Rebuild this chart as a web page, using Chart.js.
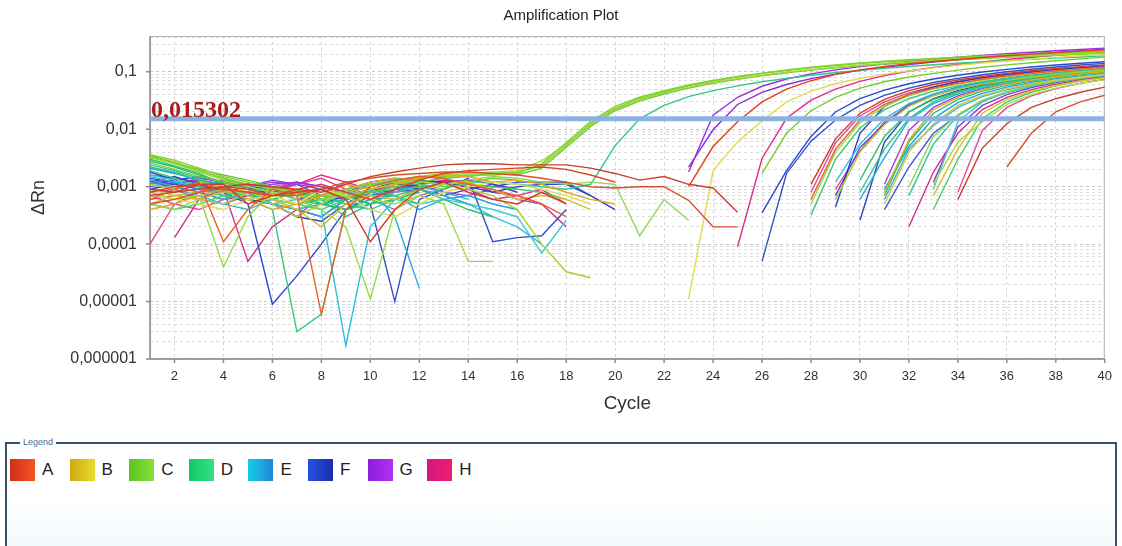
<!DOCTYPE html>
<html>
<head>
<meta charset="utf-8">
<title>Amplification Plot</title>
<script src="https://cdn.jsdelivr.net/npm/chart.js@4.4.1/dist/chart.umd.min.js"></script>
<style>
  html, body { margin: 0; padding: 0; background: #fff; }
  body { width: 1122px; height: 546px; overflow: hidden; position: relative; font-family: "Liberation Sans", Arial, sans-serif; }
  #plot { position: absolute; left: 0; top: 0; }
  #legendBox { position: absolute; left: 5px; top: 442px; width: 1108px; height: 120px; border: 2px solid #3a5068; border-bottom: 0; background: linear-gradient(to bottom, #fff 45%, #eef8fc 100%); }
  #legendBox .caption { position: absolute; left: 13px; top: -7px; padding: 0 3px; background: #fff; font-size: 9px; line-height: 11px; color: #4a6d96; }
  #legendItems { position: absolute; left: 3px; top: 15px; display: flex; }
  .item { display: flex; align-items: center; width: 59.6px; }
  .swatch { width: 25px; height: 22px; }
  .item span { margin-left: 7px; font-size: 17px; color: #222; }
</style>
</head>
<body>
<canvas id="plot" width="1122" height="420"></canvas>
<div id="legendBox"><span class="caption">Legend</span><div id="legendItems"></div></div>
<script>
(function () {
  "use strict";

  // Cycles and axis ticks
  var cycles = [1, 2, 3, 4, 5, 6, 7, 8, 9, 10, 11, 12, 13, 14, 15, 16, 17, 18, 19, 20,
                21, 22, 23, 24, 25, 26, 27, 28, 29, 30, 31, 32, 33, 34, 35, 36, 37, 38, 39, 40];
  var cycleTicks = [2, 4, 6, 8, 10, 12, 14, 16, 18, 20, 22, 24, 26, 28, 30, 32, 34, 36, 38, 40];
  var rnTicks = [0.1, 0.01, 0.001, 0.0001, 0.00001, 0.000001];
  var rnTickLabels = ["0,1", "0,01", "0,001", "0,0001", "0,00001", "0,000001"];
  var threshold = 0.015302;
  var rowNames = ["A", "B", "C", "D", "E", "F", "G", "H"];

  // Wells: base = readings from cycle 1, amp = readings from cycle `from`
  // (cycles left out are below zero and have no place on a log axis)
  var rowA = [
    { base: [.0008, .001, .0011, .0009, .0008, .0007, .0009, .0011, .0008, .0006, .0009, .0013, .0017, .0019, .002, .0021, .0022, .002, .0016, .0012],
      from: 23, amp: [.001, .005, .0135, .03, .05, .07, .09, .108, .124, .138, .151, .164, .177, .19, .203, .216, .229, .242] },
    { base: [.0009, .0008, .0011, .0011, .0005, .0007, .0008, .0009, .0006, .00011, .0004, .0009, .0012, .0008, .0006, .0005, .0008, .0005],
      from: 28, amp: [.0011, .0068, .019, .033, .047, .06, .072, .083, .094, .104, .114, .123, .132] },
    { base: [.0006, .0009, .0012, .00011, .0004, .0009, .0007, .000006, .0004, .001, .0013, .0015, .0014, .0011, .0009, .0007, .0005, .0003],
      from: 28, amp: [.0006, .0045, .0145, .027, .04, .052, .063, .074, .084, .094, .103, .112, .12] },
    { base: [.0007, .0008, .0009, .001, .0011, .001, .0009, .0008, .0011, .0015, .0018, .0021, .0024, .0025, .0025, .0024, .0024, .0024, .0021, .0017, .0013, .0015, .0011, .00095, .00036],
      from: 34, amp: [.0006, .0047, .0125, .024, .034, .044, .054] },
    { base: [.0005, .0006, .0008, .001, .0009, .0007, .0007, .0009, .0012, .0014, .0016, .0017, .0018, .0018, .0017, .0016, .0014, .0012, .001, .00095, .001, .001, .00058, .0002, .0002],
      from: 36, amp: [.0022, .0085, .02, .03, .039] }
  ];

  var rowB = [
    { base: [.0007, .0006, .0005, .0004, .0006, .0007, .0005, .0009, .0007, .0004, .0003, .0005, .0008, .001, .0012, .0011, .0009, .0007, .0005],
      from: 23, amp: [.000011, .0019, .006, .014, .03, .046, .062, .077, .091, .104, .117, .13, .142, .154, .166, .178, .19, .2] },
    { base: [.0004, .0005, .0007, .0009, .0006, .0004, .0005, .0007, .0011, .0009, .0011, .0014, .0016, .0015, .0012, .0013, .0011, .0008, .0006, .0005],
      from: 31, amp: [.0008, .0065, .022, .036, .049, .061, .072, .082, .092, .101] },
    { base: [.0005, .0007, .0006, .0008, .0009, .0006, .0004, .0002, .0005, .0007, .0006, .0009, .0011, .0012, .0009, .0006, .0007, .0006, .0004],
      from: 33, amp: [.0007, .0045, .019, .033, .046, .058, .069, .079] },
    { base: [],
      from: 31, amp: [.0005, .004, .0125, .026, .039, .051, .062, .072, .081, .09] }
  ];

  var rowC = [
    { base: [.0036, .0029, .0021, .0015, .0012, .00095, .0008, .0007, .0009, .0011, .0012, .0014, .0015, .0016, .0016, .0017],
      from: 17, amp: [.0025, .0058, .0138, .025, .036, .047, .059, .071, .083, .095, .108, .12, .132, .143, .153, .162, .171, .18, .188, .196, .204, .212, .22, .228] },
    { base: [.0034, .0027, .0019, .0014, .0011, .0009, .00075, .0006, .0008, .001, .0013, .0015, .0017, .0018, .0017, .0018],
      from: 17, amp: [.0023, .0052, .0128, .023, .034, .045, .057, .069, .081, .093, .105, .117, .128, .139, .149, .158, .167, .176, .184, .192, .2, .208, .216, .224] },
    { base: [.0032, .0025, .0018, .0013, .001, .0008, .0007, .0006, .0007, .0009, .0011, .0014, .0016, .0017, .0018, .0019],
      from: 17, amp: [.0028, .0055, .012, .022, .032, .043, .054, .065, .076, .087, .098, .109, .12, .13, .14, .149, .158, .166, .174, .182, .19, .198, .206, .214] },
    { base: [.0035, .0026, .002, .0016, .0013, .001, .00085, .0007, .00065, .0008, .001, .0012, .0014, .0015, .0017, .0016],
      from: 17, amp: [.0021, .0048, .0112, .021, .031, .041, .052, .063, .074, .085, .096, .107, .117, .127, .136, .145, .154, .162, .17, .178, .186, .194, .201, .208] },
    { base: [.0026, .002, .0015, .0012, .0009, .0007, .0009, .0006, .0008, .001, .0012, .0011, .0009, .0012, .0014, .0013],
      from: 26, amp: [.0017, .0085, .021, .036, .052, .067, .081, .094, .107, .12, .132, .144, .156, .168, .18] },
    { base: [.0008, .0006, .0007, .00004, .0003, .0008, .0006, .0004, .0002, .000011, .0004, .0007, .0005, .00005, .00005],
      from: 28, amp: [.0005, .004, .013, .025, .038, .05, .061, .072, .082, .092, .101, .11, .118] },
    { base: [.0011, .0009, .0012, .001, .0007, .0005, .0003, .0005, .0009, .0012, .0014, .0012, .0011, .0009, .0007, .0004, .0001, .000033, .000026],
      from: 29, amp: [.0006, .004, .012, .025, .038, .05, .061, .071, .081, .09, .099, .107] },
    { base: [.0005, .0004, .0006, .0005, .0008, .0006, .0004, .0006, .0009, .0011, .0013, .0012, .0011, .0013, .0015, .0014, .0012, .0011, .0012, .0011, .00014, .0006, .00026],
      from: 32, amp: [.001, .0075, .018, .032, .045, .057, .068, .078, .088] },
    { base: [.0009, .0007, .0008, .0011, .0009, .0006, .0005, .0007, .0008, .0006, .0005, .0007],
      from: 33, amp: [.0011, .006, .0135, .027, .04, .052, .063, .073] }
  ];

  var rowD = [
    { base: [.0033, .0026, .0019, .0014, .001, .0008, .0006, .0005, .0006, .0008, .0009, .001, .0011, .0012, .0012, .0011, .001, .0009],
      from: 19, amp: [.0011, .0052, .0152, .026, .037, .047, .057, .067, .077, .087, .097, .106, .115, .124, .133, .141, .149, .157, .165, .173, .181, .189] },
    { base: [.0019, .0014, .001, .0007, .0006, .0004, .000003, .000006, .0004, .0009, .0007, .0005],
      from: 28, amp: [.00032, .003, .0105, .022, .034, .046, .057, .067, .077, .086, .095, .103, .111] },
    { base: [.0028, .0022, .0016, .0012, .001, .0008, .0007, .0005, .0004, .0006, .0007, .0009, .0006, .0004, .0003],
      from: 30, amp: [.0013, .0075, .02, .033, .045, .056, .067, .077, .086, .095, .103] },
    { base: [.003, .0023, .0017, .0011, .0009, .0006, .0005, .0006, .0003, .0005, .0006, .0008],
      from: 31, amp: [.0007, .006, .019, .033, .046, .058, .069, .079, .089, .098] },
    { base: [.0024, .0019, .0014, .0009, .0008, .001, .0008, .0007, .0005, .0004, .0006, .0008],
      from: 32, amp: [.0007, .0055, .0175, .031, .044, .056, .067, .077, .087] },
    { base: [.0005, .0004, .0005, .0007, .0008, .0006, .0005, .0004, .0006, .0009, .0011, .0013, .001, .0011, .001, .0009, .0008, .0006],
      from: 33, amp: [.0004, .003, .0153, .03, .044, .057, .069, .08] },
    { base: [.0022, .0018, .0013, .0009, .0007, .0006, .0008, .0009, .0007, .0005],
      from: 30, amp: [.0008, .0045, .0153, .03, .044, .057, .069, .08, .09, .099, .108] }
  ];

  var rowE = [
    { base: [.0015, .0012, .001, .0008, .0007, .0005, .0006, .0004, .0000017, .0002, .0006, .0009, .0007, .0005, .0003, .0002, .0001],
      from: 29, amp: [.0012, .0055, .0152, .028, .041, .053, .064, .075, .085, .094, .103, .111] },
    { base: [.0013, .001, .0008, .0006, .0008, .0005, .0004, .0005, .0006, .0009, .0003, .000017],
      from: 30, amp: [.0006, .0032, .0145, .028, .041, .053, .064, .074, .084, .093, .101] },
    { base: [.0016, .0013, .0009, .0007, .0006, .0008, .0007, .0005, .0008, .0007, .0006, .0005, .0006, .0005, .0004, .0003, .00007, .00026],
      from: 33, amp: [.0009, .0135, .03, .045, .058, .07, .081, .091] },
    { base: [.0021, .0017, .0013, .0011, .0009, .0005, .0004, .0003, .0006, .0008, .0007, .0004, .0006, .0007, .0005, .0004],
      from: 31, amp: [.0009, .005, .0153, .029, .042, .054, .065, .075, .085, .094] },
    { base: [.0012, .0009, .0007, .0005, .0004, .0006, .0008, .0006, .0004, .0005, .0008, .001, .0008, .0006],
      from: 31, amp: [.0006, .0045, .0115, .024, .037, .049, .06, .07, .079, .088] }
  ];

  var rowF = [
    { base: [.0012, .0015, .0011, .0008, .0005, .000009, .000028, .0001, .0004, .0006, .0009, .0011, .0012, .001, .0008, .001, .0011, .0011, .0007],
      from: 26, amp: [.00035, .0019, .0075, .02, .034, .048, .062, .075, .087, .099, .11, .121, .131, .141, .15] },
    { base: [.0009, .0011, .0009, .0012, .001, .0007, .0008, .0006, .0007, .0005, .00001, .0006, .0009, .0014, .00011, .00013, .00014, .0004],
      from: 26, amp: [.00005, .0017, .0062, .0145, .026, .039, .052, .065, .077, .089, .1, .111, .121, .131, .14] },
    { base: [.0011, .0013, .0015, .0012, .0009, .001, .0008, .0005, .0007, .0009, .0011, .0013, .0012, .0011, .001, .0012, .0012, .0012, .0007, .0004],
      from: 29, amp: [.00044, .0085, .025, .04, .054, .067, .079, .09, .1, .11, .119, .128] },
    { base: [.0018, .0013, .0009, .0007, .0006, .0005, .0003, .00025, .0005, .0009, .0012, .0009, .0007, .0009, .0011, .0008],
      from: 30, amp: [.00026, .006, .02, .034, .047, .059, .07, .08, .09, .099, .107] },
    { base: [.0014, .0012, .001, .0009, .0011, .0008, .0006, .0005, .0004, .0007, .0009, .0008],
      from: 31, amp: [.0004, .0022, .0085, .0175, .031, .044, .056, .067, .077, .086] }
  ];

  var rowG = [
    { base: [.0012, .0011, .0013, .0011, .0009, .0011, .0012, .001, .0008, .0007],
      from: 23, amp: [.0018, .0175, .036, .056, .075, .092, .108, .123, .137, .151, .165, .179, .193, .206, .219, .232, .245, .258] },
    { base: [.0016, .0014, .0012, .001, .0011, .0009, .0006, .0007, .0009, .0012, .0014, .0013, .0012, .0013, .0011, .0009],
      from: 23, amp: [.0022, .0098, .027, .044, .06, .076, .091, .106, .12, .134, .148, .162, .176, .19, .204, .218, .232, .246] },
    { base: [.0013, .0011, .0014, .0012, .001, .0012, .0011, .0009, .0007, .0005, .0009, .0011, .0008, .0007, .0009, .0006, .0005],
      from: 31, amp: [.0011, .0095, .024, .038, .051, .063, .074, .084, .094, .103] },
    { base: [.0009, .0012, .001, .0013, .0011, .0009, .0012, .001, .0008, .0011, .0013, .001],
      from: 33, amp: [.0012, .011, .026, .04, .053, .065, .076, .086] },
    { base: [.001, .0012, .0009, .0008, .001, .0013, .0011, .0007, .0006, .0008, .001, .0009, .0007, .0005],
      from: 29, amp: [.0007, .0048, .0125, .027, .041, .054, .066, .077, .087, .097, .106, .114] }
  ];

  var rowH = [
    { base: [.0006, .0007, .0008, .0006, .0007, .0009, .0011, .0016, .0012, .0009, .0008, .0011, .0013, .0012, .0008, .0007, .0009, .0005],
      from: 25, amp: [.00009, .0031, .0155, .032, .05, .068, .086, .103, .119, .134, .149, .164, .179, .194, .208, .222] },
    { base: [.0001, .0005, .0008, .0009, .0006, .0008, .0011, .0014, .0009, .0007, .0008, .0009],
      from: 28, amp: [.0008, .0058, .017, .03, .043, .055, .067, .078, .088, .098, .107, .116, .125] },
    { base: [null, .00013, .0006, .0009, .00005, .0002, .0004, .0003, .0006, .0008, .0012, .0015, .0014, .0009, .0006, .0007, .0005, .0002],
      from: 32, amp: [.0002, .0018, .0085, .022, .036, .049, .061, .072, .082] },
    { base: [.0007, .0005, .0004, .0006, .0008, .0005, .0003, .0007, .0012, .0006, .0004, .0007, .0009],
      from: 34, amp: [.0008, .0095, .024, .038, .051, .063, .074] },
    { base: [.0008, .0009, .0006, .0005, .0007, .001, .0012, .0009, .0006, .0008, .0011, .001],
      from: 29, amp: [.0009, .0042, .0135, .026, .039, .051, .062, .072, .082, .091, .1, .108] }
  ];

  var rows = { A: rowA, B: rowB, C: rowC, D: rowD, E: rowE, F: rowF, G: rowG, H: rowH };

  // Line colours for each well, by row
  var wellColors = {
    A: ["#e0401e", "#d23a28", "#e8642a", "#c8402c", "#d85030"],
    B: ["#e0dc50", "#e0a828", "#d4bc2a", "#e4c040"],
    C: ["#7ed424", "#8ccf2e", "#a4d83c", "#6cc83a", "#78cc30", "#9ad84a", "#a8d030", "#90d858", "#b0d840"],
    D: ["#30c888", "#38c878", "#2ec06a", "#22c870", "#34c498", "#40d070", "#2cc880"],
    E: ["#2cc0dc", "#2ab0e0", "#40c8d4", "#1ea4d8", "#38b8d0"],
    F: ["#2c48d0", "#3050c8", "#2440c0", "#3444b8", "#3858d8"],
    G: ["#9a30e0", "#8a2ad8", "#a040e0", "#8040d0", "#7040d8"],
    H: ["#e02a8c", "#e0449c", "#d0308c", "#e04c98", "#e0509c"]
  };

  // Legend swatch gradients
  var swatchColors = {
    A: ["#d42c1e", "#f0581e"], B: ["#d0a810", "#e4dc30"], C: ["#5cc41e", "#84e03c"], D: ["#12c862", "#34e084"],
    E: ["#16cce8", "#2088d8"], F: ["#2452e4", "#1a2ea8"], G: ["#8a1ee0", "#b232f0"], H: ["#d01880", "#f01c70"]
  };

  function wellPoints(well) {
    var pts = cycles.map(function (c) { return { x: c, y: null }; });
    well.base.forEach(function (v, i) { pts[i].y = v; });
    well.amp.forEach(function (v, i) { pts[well.from - 1 + i].y = v; });
    return pts;
  }

  function decadeIndex(v) {
    for (var i = 0; i < rnTicks.length; i++) {
      if (Math.abs(v - rnTicks[i]) < rnTicks[i] * 1e-6) return i;
    }
    return -1;
  }

  var datasets = [];
  rowNames.forEach(function (name) {
    rows[name].forEach(function (well, i) {
      datasets.push({
        label: name + (i + 1),
        data: wellPoints(well),
        borderColor: wellColors[name][i],
        borderWidth: 1.4,
        pointRadius: 0,
        fill: false,
        tension: 0
      });
    });
  });

  // Threshold line across the whole run
  datasets.push({
    label: "Threshold",
    data: [{ x: cycles[0], y: threshold }, { x: cycles[cycles.length - 1], y: threshold }],
    borderColor: "#8cb3e0",
    borderWidth: 5,
    pointRadius: 0,
    order: -1
  });

  var plotFrame = {
    id: "plotFrame",
    beforeDatasetsDraw: function (chart) {
      var a = chart.chartArea, ctx = chart.ctx;
      var xs = chart.scales.x, ys = chart.scales.y;
      ctx.save();
      ctx.strokeStyle = "#b4b4b4";
      ctx.lineWidth = 1;
      ctx.strokeRect(a.left + 0.5, a.top + 0.5, a.right - a.left - 1, a.bottom - a.top - 1);
      ctx.strokeStyle = "#8c8c8c";
      ctx.lineWidth = 1.5;
      ctx.beginPath();
      ctx.moveTo(a.left, a.top);
      ctx.lineTo(a.left, a.bottom);
      ctx.lineTo(a.right, a.bottom);
      rnTicks.forEach(function (v) {
        var py = ys.getPixelForValue(v);
        ctx.moveTo(a.left - 4, py);
        ctx.lineTo(a.left, py);
      });
      cycleTicks.forEach(function (c) {
        var px = xs.getPixelForValue(c);
        ctx.moveTo(px, a.bottom);
        ctx.lineTo(px, a.bottom + 4);
      });
      ctx.stroke();
      ctx.restore();
    },
    afterDatasetsDraw: function (chart) {
      var ctx = chart.ctx;
      var py = chart.scales.y.getPixelForValue(threshold);
      ctx.save();
      ctx.font = "bold 24px 'Liberation Serif', 'Times New Roman', serif";
      ctx.fillStyle = "#a81c1c";
      ctx.textAlign = "left";
      ctx.textBaseline = "alphabetic";
      ctx.fillText(String(threshold).replace(".", ","), chart.chartArea.left + 1, py - 2);
      ctx.restore();
    },
    afterDraw: function (chart) {
      var ctx = chart.ctx;
      ctx.save();
      ctx.font = "15px 'Liberation Sans', Arial, sans-serif";
      ctx.fillStyle = "#222";
      ctx.textAlign = "center";
      ctx.textBaseline = "middle";
      ctx.fillText("Amplification Plot", chart.width / 2, 16);
      ctx.restore();
    }
  };

  Chart.defaults.font.family = "'Liberation Sans', Arial, sans-serif";
  Chart.defaults.color = "#333";

  var ctx = document.getElementById("plot").getContext("2d");
  var amplificationChart = new Chart(ctx, {
    type: "line",
    data: { datasets: datasets },
    plugins: [plotFrame],
    options: {
      responsive: false,
      animation: false,
      events: [],
      layout: { padding: { top: 36, right: 13, left: 0, bottom: 0 } },
      plugins: {
        legend: { display: false },
        tooltip: { enabled: false },
        title: { display: false }
      },
      scales: {
        x: {
          type: "linear",
          min: 1,
          max: 40,
          afterBuildTicks: function (axis) {
            axis.ticks = cycleTicks.map(function (v) { return { value: v }; });
          },
          afterFit: function (axis) { axis.height = 61; },
          grid: { color: "#d6d6d6", drawTicks: false },
          border: { display: false, dash: [3, 3] },
          ticks: { padding: 10, font: { size: 13 }, color: "#333", maxRotation: 0, autoSkip: false },
          title: { display: true, text: "Cycle", font: { size: 19 }, color: "#333", padding: { top: 0, bottom: 5 } }
        },
        y: {
          type: "logarithmic",
          min: 0.000001,
          max: 0.42,
          afterBuildTicks: function (axis) {
            axis.ticks = axis.ticks.filter(function (t) {
              var m = t.value / Math.pow(10, Math.floor(Math.log10(t.value) + 1e-9));
              return Math.abs(m - Math.round(m)) < 1e-6 || t.value === axis.max;
            });
          },
          afterFit: function (axis) { axis.width = 150; },
          grid: {
            color: function (c) { return c.tick && decadeIndex(c.tick.value) >= 0 ? "#c6c6c6" : "#dcdcdc"; },
            drawTicks: false
          },
          border: { display: false, dash: [3, 3] },
          ticks: {
            padding: 13,
            font: { size: 16 },
            color: "#333",
            autoSkip: false,
            callback: function (v) {
              var i = decadeIndex(v);
              return i >= 0 ? rnTickLabels[i] : "";
            }
          },
          title: { display: true, text: "ΔRn", font: { size: 18 }, color: "#333", padding: { top: 28, bottom: 0 } }
        }
      }
    }
  });

  // Row legend under the plot
  var legendItems = document.getElementById("legendItems");
  rowNames.forEach(function (name) {
    var item = document.createElement("div");
    item.className = "item";
    var sw = document.createElement("div");
    sw.className = "swatch";
    sw.style.background = "linear-gradient(to right, " + swatchColors[name][0] + ", " + swatchColors[name][1] + ")";
    var label = document.createElement("span");
    label.textContent = name;
    item.appendChild(sw);
    item.appendChild(label);
    legendItems.appendChild(item);
  });
})();
</script>
</body>
</html>
